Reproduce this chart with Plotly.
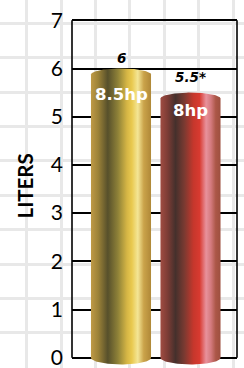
import numpy as np
import plotly.graph_objects as go

# ---- data ----
categories = ["8.5hp", "8hp"]
liters = [6, 5.5]
value_labels = ["6", "5.5*"]
y_ticks = [0, 1, 2, 3, 4, 5, 6, 7]
y_title = "LITERS"

# ---- styles ----
W, H = 244, 368
gold_scale = [
    [0.00, "#bf9a46"], [0.12, "#9c8238"], [0.28, "#57502b"], [0.45, "#8f8238"],
    [0.60, "#d6b645"], [0.68, "#e9c94f"], [0.78, "#f4e696"], [0.88, "#caa34a"],
    [1.00, "#b08838"],
]
red_scale = [
    [0.00, "#a04c42"], [0.12, "#7c3c35"], [0.25, "#45302c"], [0.40, "#7b3a31"],
    [0.55, "#c6372c"], [0.65, "#d83a30"], [0.76, "#e8929c"], [0.84, "#d47a7e"],
    [0.92, "#ac5748"], [1.00, "#9e5040"],
]
scales = [gold_scale, red_scale]
half_w = 0.432      # bar half width (x units)
e_top = 0.125       # ellipse half height (y units)
e_bot = 0.14
top_label_shift = [11, 16]
inside_label_shift = [-26, -18]

fig = go.Figure()

# background graph paper (subplot xy)
fig.add_trace(go.Scatter(x=[0], y=[0], mode="markers", marker=dict(opacity=0),
                         hoverinfo="skip", showlegend=False, xaxis="x", yaxis="y"))

# cylinders (subplot x2y2)
t_up = np.linspace(np.pi, 0, 60)
t_dn = np.linspace(0, -np.pi, 60)
for i, v in enumerate(liters):
    xs = np.concatenate([i + half_w * np.cos(t_up), i + half_w * np.cos(t_dn), [i - half_w]])
    ys = np.concatenate([(v - e_top) + e_top * np.sin(t_up), e_bot * np.sin(t_dn), [v - e_top]])
    fig.add_trace(go.Scatter(
        x=xs, y=ys, mode="lines", fill="toself", line=dict(width=0),
        fillgradient=dict(type="horizontal", colorscale=scales[i],
                          start=i - half_w, stop=i + half_w),
        hoverinfo="skip", showlegend=False, xaxis="x2", yaxis="y2"))

# value labels
for i, v in enumerate(liters):
    fig.add_annotation(x=i, y=v, xref="x2", yref="y2", text="<b><i>%s</i></b>" % value_labels[i],
                       showarrow=False, yshift=top_label_shift[i],
                       xanchor="center", yanchor="middle",
                       font=dict(family="DejaVu Sans", size=13.5, color="black"))
    fig.add_annotation(x=i, y=v, xref="x2", yref="y2", text="<b>%s</b>" % categories[i],
                       showarrow=False, yshift=inside_label_shift[i],
                       xanchor="center", yanchor="middle",
                       font=dict(family="DejaVu Sans", size=16.5, color="white"))

# axis title
fig.add_annotation(x=24.5 / W, y=(H - 186) / H, xref="paper", yref="paper",
                   xanchor="center", yanchor="middle",
                   text="<b>%s</b>" % y_title, textangle=-90, showarrow=False,
                   font=dict(family="Lato", size=20.5, color="black", weight=900))

# frame sides
for xd in (0, 1):
    fig.add_shape(type="line", xref="x2 domain", yref="y2", x0=xd, x1=xd,
                  y0=0, y1=7, line=dict(color="black", width=1.6))

fig.update_layout(
    template="none",
    width=W, height=H, autosize=False,
    margin=dict(l=0, r=0, t=0, b=0, pad=0),
    paper_bgcolor="white", plot_bgcolor="rgba(0,0,0,0)",
    showlegend=False,
    xaxis=dict(domain=[0, 1], range=[0, W], tick0=26.7, dtick=34.4,
               showgrid=True, gridcolor="#e8e8e8", gridwidth=2.5,
               showticklabels=False, zeroline=False, showline=False,
               ticks="", fixedrange=True, automargin=False),
    yaxis=dict(domain=[0, 1], range=[H, 0], tick0=23.3, dtick=34.4,
               showgrid=True, gridcolor="#e8e8e8", gridwidth=2.5,
               showticklabels=False, zeroline=False, showline=False,
               ticks="", fixedrange=True, automargin=False),
    xaxis2=dict(domain=[72 / W, 237 / W], range=[-0.705, 1.669], anchor="y2",
                showgrid=False, zeroline=False, showline=False,
                showticklabels=False, ticks="", fixedrange=True, automargin=False),
    yaxis2=dict(domain=[(H - 367.34) / H, (H - 10.66) / H], range=[-0.2, 7.2],
                anchor="x2", tickvals=y_ticks, ticktext=[str(t) for t in y_ticks],
                showgrid=True, gridcolor="black", gridwidth=1.6,
                zeroline=False, showline=False, ticks="",
                ticklabelstandoff=8, automargin=False, ticklabeloverflow="allow",
                tickfont=dict(family="Lato", size=21, color="black"),
                fixedrange=True),
)

fig.write_html("out.html", config={"displayModeBar": False},
               post_script="document.body.style.margin='0';document.body.style.overflow='hidden';")
